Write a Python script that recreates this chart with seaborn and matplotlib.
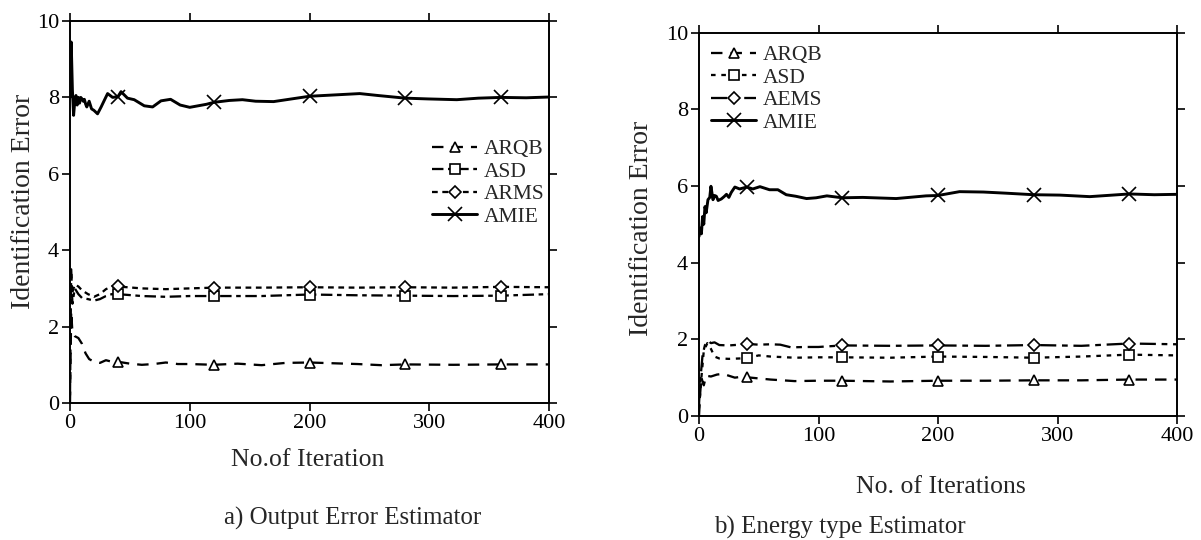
import numpy as np
import matplotlib
matplotlib.use("Agg")
import matplotlib.pyplot as plt
import seaborn as sns

sns.set_theme(style="ticks")
plt.rcParams["font.family"] = ["Liberation Serif", "DejaVu Serif"]

# ---------------- data: panel a) Output Error Estimator ----------------
MARK_X = [40, 120, 200, 280, 360]
SERIES_A = ["ARQB", "ASD", "ARMS", "AMIE"]

a_arqb_x = [0, 1, 2, 4, 7, 10, 13, 16, 20, 25, 30, 35, 40, 50, 60, 70, 80, 90, 100,
            120, 140, 160, 180, 200, 240, 260, 280, 320, 360, 400]
a_arqb_y = [0.0, 2.4, 1.85, 1.75, 1.7, 1.55, 1.3, 1.15, 1.08, 1.05, 1.12, 1.08, 1.08, 1.03,
            1.0, 1.02, 1.06, 1.02, 1.02, 1.0, 1.03, 0.99, 1.05, 1.06, 1.02, 0.99, 1.01,
            1.0, 1.01, 1.01]

a_asd_x = [0, 1, 2, 4, 7, 10, 15, 20, 25, 30, 35, 40, 60, 80, 100, 120, 160, 200, 240,
           280, 320, 360, 400]
a_asd_y = [0.2, 3.5, 2.6, 3.0, 2.85, 2.75, 2.72, 2.68, 2.72, 2.8, 2.85, 2.85, 2.8, 2.78,
           2.8, 2.8, 2.8, 2.84, 2.82, 2.81, 2.8, 2.81, 2.85]

a_arms_x = [2, 4, 7, 10, 15, 20, 25, 30, 35, 40, 60, 80, 120, 160, 200, 240, 280, 320,
            360, 400]
a_arms_y = [2.9, 3.1, 3.05, 2.95, 2.85, 2.78, 2.85, 2.98, 3.05, 3.05, 3.0, 2.98, 3.02,
            3.02, 3.03, 3.02, 3.03, 3.02, 3.04, 3.03]

a_amie_x = [0, 1, 2, 3, 4, 5, 6, 7, 8, 9, 10, 11, 12, 13, 14, 16, 18, 20, 23, 26, 28.6,
            31.4, 35.6, 40, 42.6, 48, 53.6, 62, 69, 76, 84, 92, 100, 114, 120, 133, 144,
            155, 170, 200, 224, 242, 257, 280, 299, 323, 341, 360, 381, 400]
a_amie_y = [8.0, 9.45, 8.2, 7.53, 7.9, 8.05, 7.8, 8.0, 7.85, 8.0, 7.96, 7.9, 7.95, 7.83,
            7.75, 7.9, 7.7, 7.66, 7.57, 7.75, 7.92, 8.1, 8.0, 8.02, 8.15, 7.98, 7.94, 7.78,
            7.75, 7.91, 7.95, 7.8, 7.74, 7.82, 7.87, 7.92, 7.94, 7.9, 7.89, 8.03, 8.07,
            8.1, 8.05, 7.98, 7.96, 7.94, 7.98, 8.0, 7.99, 8.01]

# ---------------- data: panel b) Energy type Estimator ----------------
SERIES_B = ["ARQB", "ASD", "AEMS", "AMIE"]

b_arqb_x = [0, 1, 2, 4, 6, 10, 15, 20, 25, 30, 35, 40, 50, 60, 80, 100, 120, 160, 200,
            240, 280, 320, 360, 400]
b_arqb_y = [0.0, 0.6, 1.0, 0.8, 1.05, 1.03, 1.08, 1.1, 1.05, 1.0, 1.02, 1.01, 0.98, 0.95,
            0.91, 0.92, 0.92, 0.9, 0.92, 0.92, 0.93, 0.93, 0.95, 0.95]

b_asd_x = [0, 2, 4, 7, 10, 13, 17, 25, 34, 40, 50, 60, 80, 100, 120, 160, 200, 240, 280,
           320, 360, 400]
b_asd_y = [0.2, 1.0, 1.7, 1.9, 1.75, 1.55, 1.5, 1.49, 1.5, 1.51, 1.58, 1.55, 1.52, 1.53,
           1.53, 1.52, 1.55, 1.54, 1.52, 1.55, 1.6, 1.58]

b_aems_x = [0, 1, 3, 5, 8, 10, 13, 17, 25, 34, 40, 50, 60, 68, 77, 90, 100, 120, 160,
            200, 240, 280, 320, 360, 400]
b_aems_y = [0.3, 0.9, 1.6, 1.85, 1.95, 1.9, 1.92, 1.85, 1.84, 1.86, 1.88, 1.86, 1.87,
            1.86, 1.79, 1.8, 1.8, 1.84, 1.83, 1.84, 1.83, 1.85, 1.83, 1.89, 1.87]

b_amie_x = [0, 1, 2, 3, 4, 5, 6, 7.5, 9, 10, 11.7, 13, 14.5, 16, 18.7, 21, 23, 25, 27,
            30, 34, 40, 45, 51, 59, 66, 73, 81, 90, 98, 107, 120, 137, 165, 190, 200,
            218, 238, 257, 280, 302, 327, 346, 360, 381, 400]
b_amie_y = [4.68, 4.9, 4.75, 5.2, 5.0, 5.46, 5.3, 5.64, 5.7, 5.99, 5.64, 5.75, 5.73, 5.62,
            5.66, 5.72, 5.78, 5.7, 5.83, 5.97, 5.92, 5.97, 5.92, 5.98, 5.9, 5.9, 5.77,
            5.73, 5.67, 5.69, 5.74, 5.69, 5.7, 5.67, 5.74, 5.75, 5.85, 5.84, 5.81, 5.77,
            5.76, 5.72, 5.76, 5.79, 5.77, 5.78]

X_TICKS = [0, 100, 200, 300, 400]
Y_TICKS = [0, 2, 4, 6, 8, 10]

# ---------------- figure ----------------
W, H = 1201, 540
fig = plt.figure(figsize=(W / 100, H / 100), dpi=100)


def px_axes(x0, x1, top, bottom):
    return fig.add_axes([x0 / W, 1 - bottom / H, (x1 - x0) / W, (bottom - top) / H])


ax_a = px_axes(70, 549, 21, 403)
ax_b = px_axes(699, 1177, 32.5, 416)

TICK_FS = 16
LEG_FS = 15.5


def draw(ax, x, y, label, ls, marker, ms, lw=1.5):
    idx = [i for i, v in enumerate(x) if v in MARK_X]
    sns.lineplot(x=x, y=y, ax=ax, color="black", linestyle=ls, linewidth=lw,
                 marker=marker, markersize=ms, markevery=idx,
                 markerfacecolor="white", markeredgecolor="black",
                 markeredgewidth=1.2, label=label, legend=False, sort=False)


styles_a = {
    "ARQB": ((0, (5, 3.5)), "^", 7.5),
    "ASD": ((0, (5, 2, 2, 2)), "s", 7.5),
    "ARMS": ((0, (2.5, 2)), "D", 6),
    "AMIE": ("-", "x", 9.5),
}
data_a = {
    "ARQB": (a_arqb_x, a_arqb_y),
    "ASD": (a_asd_x, a_asd_y),
    "ARMS": (a_arms_x, a_arms_y),
    "AMIE": (a_amie_x, a_amie_y),
}
styles_b = {
    "ARQB": ((0, (5, 3.5)), "^", 7.5),
    "ASD": ((0, (2, 2.5)), "s", 7.5),
    "AEMS": ((0, (7, 2.5, 2.5, 2.5)), "D", 6),
    "AMIE": ("-", "x", 9.5),
}
data_b = {
    "ARQB": (b_arqb_x, b_arqb_y),
    "ASD": (b_asd_x, b_asd_y),
    "AEMS": (b_aems_x, b_aems_y),
    "AMIE": (b_amie_x, b_amie_y),
}

for ax, names, styles, data in [(ax_a, SERIES_A, styles_a, data_a),
                                (ax_b, SERIES_B, styles_b, data_b)]:
    for n in names:
        ls, mk, ms = styles[n]
        lw = 2.1 if n == "AMIE" else 1.65
        draw(ax, data[n][0], data[n][1], n, ls, mk, ms, lw)
    ax.set_xlim(0, 400)
    ax.set_ylim(0, 10)
    ax.set_xticks(X_TICKS)
    ax.set_yticks(Y_TICKS)
    ax.tick_params(direction="out", length=5.5, width=1.2, pad=2.5,
                   labelsize=TICK_FS, colors="black",
                   top=True, right=True, labeltop=False, labelright=False)
    for s in ax.spines.values():
        s.set_visible(True)
        s.set_linewidth(1.4)
        s.set_color("black")
    ax.set_facecolor("white")
    ax.set_xlabel("")
    ax.set_ylabel("")


def add_legend(ax, names, xfig, yfig):
    handles = {l.get_label(): l for l in ax.get_lines()}
    leg = ax.legend([handles[n] for n in names], names, loc="upper left",
                    bbox_to_anchor=(xfig, yfig), bbox_transform=fig.transFigure,
                    frameon=False, fontsize=LEG_FS, numpoints=1, handlelength=2.1,
                    handletextpad=0.3, labelspacing=0.12, borderpad=0,
                    borderaxespad=0)
    return leg


add_legend(ax_a, SERIES_A, 432 / W, 1 - 139 / H)
add_legend(ax_b, SERIES_B, 711 / W, 1 - 45 / H)

# axis labels and captions
ax_a.set_ylabel("Identification Error", fontsize=20)
ax_a.yaxis.set_label_coords(24 / W, 1 - 201 / H, transform=fig.transFigure)
ax_a.yaxis.label.set_va("center")
ax_a.set_xlabel("No.of Iteration", fontsize=18.5)
ax_a.xaxis.set_label_coords(308 / W, 1 - 460 / H, transform=fig.transFigure)
ax_a.xaxis.label.set_va("center")

ax_b.set_ylabel("Identification Error", fontsize=20)
ax_b.yaxis.set_label_coords(641 / W, 1 - 228 / H, transform=fig.transFigure)
ax_b.yaxis.label.set_va("center")
ax_b.set_xlabel("No. of Iterations", fontsize=18.5)
ax_b.xaxis.set_label_coords(941 / W, 1 - 487 / H, transform=fig.transFigure)
ax_b.xaxis.label.set_va("center")

fig.text(353 / W, 1 - 518 / H, "a) Output Error Estimator", ha="center", va="center",
         fontsize=18)
fig.text(840 / W, 1 - 527 / H, "b) Energy type Estimator", ha="center", va="center",
         fontsize=18)

fig.savefig("out.png", dpi=100, facecolor="white")
